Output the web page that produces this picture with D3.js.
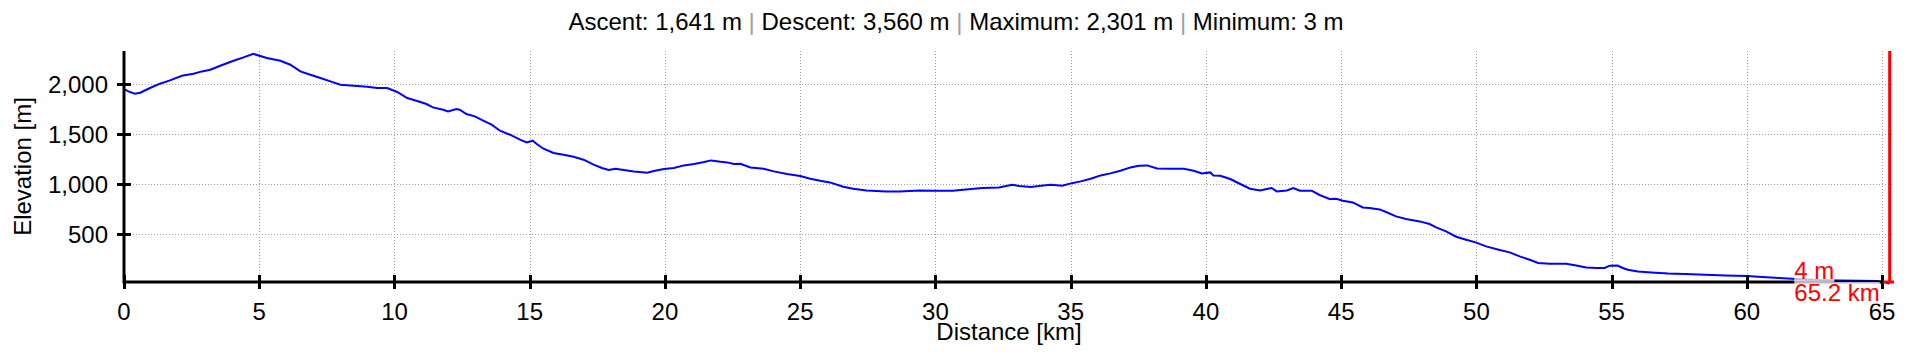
<!DOCTYPE html>
<html><head><meta charset="utf-8">
<script src="https://cdn.jsdelivr.net/npm/d3@7"></script>
<style>
html,body{margin:0;padding:0;background:#fff;}
svg{display:block;font-family:"Liberation Sans",Arial,sans-serif;}
</style></head><body>
<svg id="chart" width="1912" height="361"></svg>
<script>
const distanceKm = [0,0.16,0.4,0.6,0.96,1.33,1.7,2.14,2.57,2.88,3.19,3.56,4.05,4.42,4.78,5.28,5.78,6.15,6.52,6.89,7.26,7.63,8.0,8.49,8.99,9.36,9.73,10.1,10.47,10.93,11.18,11.42,11.8,11.98,12.29,12.41,12.66,12.97,13.28,13.59,13.9,14.27,14.64,14.89,15.11,15.26,15.51,15.88,16.25,16.62,16.99,17.36,17.67,17.92,18.17,18.48,18.85,19.34,19.59,19.96,20.33,20.7,21.08,21.45,21.7,22.06,22.3,22.55,22.79,23.16,23.65,24.02,24.51,25.0,25.37,25.74,26.1,26.59,26.96,27.45,28.19,28.68,29.41,30.0,30.64,31.13,31.74,32.35,32.84,33.1,33.53,33.89,34.26,34.69,35.0,35.37,35.74,36.11,36.47,36.84,37.21,37.52,37.83,38.19,38.69,39.18,39.55,39.85,40.16,40.28,40.53,40.9,41.27,41.63,42.0,42.25,42.43,42.62,42.99,43.23,43.48,43.91,44.2,44.57,44.82,45.06,45.43,45.8,46.05,46.42,46.66,47.03,47.4,47.9,48.27,48.51,48.88,49.25,49.62,49.97,50.36,50.86,51.23,51.6,51.97,52.28,52.71,53.32,53.69,54.06,54.43,54.74,54.93,55.22,55.41,55.6,55.97,56.47,57.09,57.71,58.46,59.2,60,60.57,61.19,61.82,62.69,63.43,64.18,64.8,65.05,65.28];
const elevationM = [1950,1926,1903,1913,1960,2003,2036,2083,2103,2126,2143,2183,2233,2266,2301,2260,2233,2193,2126,2093,2060,2026,1993,1983,1973,1960,1960,1920,1860,1823,1800,1766,1743,1726,1750,1743,1700,1676,1633,1593,1533,1493,1443,1416,1433,1400,1353,1310,1293,1273,1243,1193,1160,1140,1153,1140,1126,1113,1130,1150,1160,1186,1200,1220,1236,1223,1216,1200,1203,1166,1153,1126,1100,1080,1053,1033,1016,973,953,936,926,926,936,933,933,946,960,966,993,980,970,983,993,983,1006,1026,1053,1086,1106,1133,1166,1183,1186,1156,1153,1153,1133,1106,1116,1086,1083,1050,1000,953,936,950,960,926,936,960,933,933,890,850,853,833,816,766,760,746,720,676,650,626,600,566,526,473,443,416,376,340,316,276,243,210,203,203,186,166,160,160,183,185,160,143,126,116,106,100,93,86,80,70,60,50,40,36,33,30,22,4];
const xTickValues = [0,5,10,15,20,25,30,35,40,45,50,55,60,65];
const yTickValues = [500,1000,1500,2000];
const statLabels = ["Ascent","Descent","Maximum","Minimum"];
const statValues = [1641,3560,2301,3];
const xAxisTitle = "Distance [km]";
const yAxisTitle = "Elevation [m]";
const cursorKm = 65.28;
const cursorElevation = 4;

const svg = d3.select("#chart");
const W = 1912;
const plot = {left:124, right:1894, top:51, bottom:282};
const FS = 24;

const x = d3.scaleLinear().domain([0, 65.44]).range([plot.left, plot.right]);
const y = d3.scaleLinear().domain([20, 2330]).range([plot.bottom, plot.top]);

// grid
const grid = svg.append("g").attr("stroke","#a0a0a0").attr("stroke-width",1).attr("stroke-dasharray","1,2");
grid.selectAll("line.v").data(xTickValues.filter(d=>d>0)).join("line")
  .attr("x1",d=>Math.round(x(d))+0.5).attr("x2",d=>Math.round(x(d))+0.5)
  .attr("y1",plot.top).attr("y2",plot.bottom);
grid.selectAll("line.h").data(yTickValues).join("line")
  .attr("x1",plot.left).attr("x2",plot.right)
  .attr("y1",d=>Math.round(y(d))+0.5).attr("y2",d=>Math.round(y(d))+0.5);

// profile line
const line = d3.line().x((d,i)=>x(distanceKm[i])).y(d=>y(d));
svg.append("path").attr("d", line(elevationM))
  .attr("fill","none").attr("stroke","#0000ff").attr("stroke-width",2).attr("stroke-linejoin","miter");

// axes
const axisColor = "#000";
const lastTick = xTickValues[xTickValues.length-1];
const xAxisG = svg.append("g");
xAxisG.append("line").attr("x1",plot.left).attr("x2",x(lastTick))
  .attr("y1",plot.bottom).attr("y2",plot.bottom).attr("stroke",axisColor).attr("stroke-width",3);
xAxisG.selectAll("line.t").data(xTickValues).join("line")
  .attr("x1",d=>Math.round(x(d))+0.5).attr("x2",d=>Math.round(x(d))+0.5)
  .attr("y1",plot.bottom-7).attr("y2",plot.bottom+7).attr("stroke",axisColor).attr("stroke-width",3);
xAxisG.selectAll("text").data(xTickValues).join("text")
  .attr("x",d=>x(d)).attr("y",320).attr("text-anchor","middle")
  .attr("font-size",FS).attr("fill","#000").text(d=>d);

// cursor horizontal (beyond last tick)
svg.append("line").attr("x1",x(lastTick)+1).attr("x2",plot.right)
  .attr("y1",plot.bottom).attr("y2",plot.bottom)
  .attr("stroke","#ff0000").attr("stroke-width",3);

const yAxisG = svg.append("g");
yAxisG.append("line").attr("x1",plot.left).attr("x2",plot.left)
  .attr("y1",plot.top).attr("y2",plot.bottom+1.5).attr("stroke",axisColor).attr("stroke-width",3);
yAxisG.selectAll("line.t").data(yTickValues).join("line")
  .attr("x1",plot.left-7).attr("x2",plot.left+7)
  .attr("y1",d=>Math.round(y(d))+0.5).attr("y2",d=>Math.round(y(d))+0.5).attr("stroke",axisColor).attr("stroke-width",3);
const fmt = d3.format(",");
yAxisG.selectAll("text").data(yTickValues).join("text")
  .attr("x",108).attr("y",d=>y(d)).attr("dy","0.36em").attr("text-anchor","end")
  .attr("font-size",FS).attr("fill","#000").text(d=>fmt(d));

// axis titles
svg.append("text").attr("x",(plot.left+plot.right)/2).attr("y",340).attr("text-anchor","middle")
  .attr("font-size",FS).attr("fill","#000").text(xAxisTitle);
svg.append("text").attr("transform",`translate(31,${(plot.top+plot.bottom)/2}) rotate(-90)`)
  .attr("text-anchor","middle").attr("font-size",FS).attr("fill","#000").text(yAxisTitle);

// title
const title = svg.append("text").attr("x",W/2).attr("y",30).attr("text-anchor","middle")
  .attr("font-size",FS).attr("fill","#000");
statLabels.forEach((lab,i)=>{
  if(i>0){ title.append("tspan").attr("fill","#a0a0a0").text(" | "); }
  title.append("tspan").text(`${lab}: ${fmt(statValues[i])} m`);
});

// cursor vertical
const cx = x(cursorKm);
svg.append("line").attr("x1",cx).attr("x2",cx).attr("y1",plot.top).attr("y2",plot.bottom)
  .attr("stroke","#ff0000").attr("stroke-width",3);

// cursor labels
const lab = svg.append("g");
const t1 = lab.append("text").attr("y",279).attr("font-size",FS).attr("fill","#ff0000")
  .text(`${cursorElevation} m`);
const t2 = lab.append("text").attr("y",301).attr("font-size",FS).attr("fill","#ff0000")
  .text(`${(Math.floor(cursorKm*10)/10).toFixed(1)} km`);
const w2 = t2.node().getComputedTextLength();
const lx = cx - 10 - w2;
t1.attr("x",lx); t2.attr("x",lx);
[t1,t2].forEach(t=>{
  const b = t.node().getBBox();
  lab.insert("rect", () => t.node()).attr("x",b.x).attr("y",b.y+3).attr("width",b.width).attr("height",b.height-5)
    .attr("fill","#fff").attr("fill-opacity",0.72);
});
</script>
</body></html>
